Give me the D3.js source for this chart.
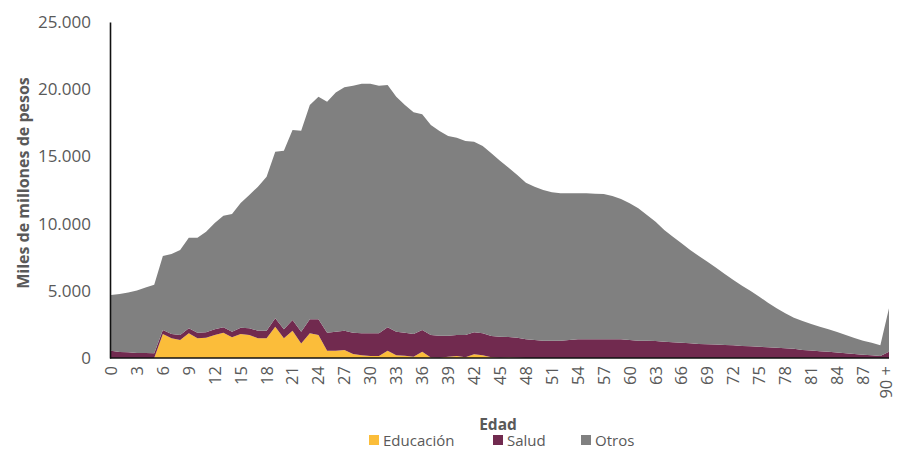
<!DOCTYPE html>
<html>
<head>
<meta charset="utf-8">
<script src="https://cdn.jsdelivr.net/npm/d3@7"></script>
<style>
  html, body { margin: 0; padding: 0; background: #fff; }
  svg { display: block; font-family: "Open Sans", "Noto Sans", sans-serif; }
</style>
</head>
<body>
<svg id="chart" width="898" height="450"></svg>
<script>
// ---- Data ----
const categories = [];
for (let i = 0; i < 90; i++) categories.push(String(i));
categories.push("90 +");

const educacion = [0,0,0,0,0,0,1790,1470,1340,1840,1470,1510,1710,1880,1540,1790,1710,1470,1470,2330,
  1470,2030,1080,1840,1710,540,540,600,300,200,150,150,540,200,170,100,470,30,20,100,
  150,50,280,200,50,20,30,20,0,0,0,0,0,0,0,0,0,0,0,0,
  0,0,0,0,0,0,0,0,0,0,0,0,0,0,0,0,0,0,0,0,
  0,0,0,0,0,0,0,0,0,0,0];

const salud = [540,450,420,380,370,350,290,320,370,370,410,400,430,400,420,460,500,560,560,620,
  670,800,880,1040,1170,1340,1420,1430,1580,1640,1690,1690,1740,1760,1710,1690,1610,1680,1640,1560,
  1560,1660,1630,1640,1590,1560,1530,1490,1390,1340,1290,1290,1290,1340,1390,1390,1390,1390,1390,1390,
  1340,1290,1290,1260,1210,1170,1140,1090,1040,1020,1000,970,940,900,870,840,800,760,720,680,
  600,560,510,460,410,350,300,250,200,150,470];

const otros = [4150,4310,4460,4650,4880,5100,5510,5950,6330,6740,7070,7490,7900,8310,8750,9280,9920,10720,11460,12400,
  13280,14130,14950,15940,16560,17190,17790,18110,18380,18570,18570,18420,18030,17480,16940,16490,16050,15630,15230,14860,
  14680,14440,14180,13930,13590,13100,12600,12110,11650,11410,11210,11040,10960,10910,10860,10860,10830,10810,10660,10440,
  10170,9850,9350,8880,8310,7860,7390,6950,6550,6150,5720,5280,4860,4480,4120,3720,3310,2940,2610,2320,
  2150,1970,1820,1680,1520,1360,1190,1040,940,800,3230];

const seriesNames = ["Educación", "Salud", "Otros"];
const seriesColors = ["#FBBD3A", "#712A4F", "#808080"];
const yTicks = [0, 5000, 10000, 15000, 20000, 25000];
const xTickLabels = categories.filter((d, i) => i % 3 === 0);

// ---- Build table ----
const table = categories.map((c, i) => ({
  cat: c,
  "Educación": educacion[i],
  "Salud": salud[i],
  "Otros": otros[i]
}));

const svg = d3.select("#chart");

const x = d3.scalePoint().domain(categories).range([111, 889]);
const y = d3.scaleLinear().domain([0, 25000]).range([358, 22]);

const stack = d3.stack().keys(seriesNames);
const layers = stack(table);

const area = d3.area()
  .x(d => x(d.data.cat))
  .y0(d => y(d[0]))
  .y1(d => y(d[1]));

svg.append("g").selectAll("path")
  .data(layers)
  .join("path")
  .attr("d", area)
  .attr("fill", (d, i) => seriesColors[i]);

const fmt = v => d3.format(",")(v).replace(/,/g, ".");

// Y axis
const yAxis = svg.append("g")
  .attr("transform", "translate(110,0)")
  .call(d3.axisLeft(y).tickValues(yTicks).tickSize(0).tickPadding(19).tickFormat(fmt));
yAxis.select(".domain").attr("stroke", "#111").attr("stroke-width", 1.6);
yAxis.selectAll("text")
  .attr("fill", "#595959")
  .style("font-size", "17px")
  .style("font-family", "'Open Sans', sans-serif");

// X axis
const xAxis = svg.append("g")
  .attr("transform", "translate(0,358)")
  .call(d3.axisBottom(x).tickValues(xTickLabels).tickSize(0));
xAxis.select(".domain")
  .attr("d", "M110,0H889")
  .attr("stroke", "#111").attr("stroke-width", 1.6);
xAxis.selectAll("text")
  .attr("transform", "rotate(-90)")
  .attr("text-anchor", "end")
  .attr("x", -8)
  .attr("y", 0)
  .attr("dy", (d, i, n) => i === n.length - 1 ? "0.15em" : "0.33em")
  .attr("fill", "#595959")
  .style("font-size", "16.5px")
  .style("font-family", "'Open Sans', sans-serif");

// Y axis title
svg.append("text")
  .attr("transform", "translate(23,183) rotate(-90)")
  .attr("text-anchor", "middle")
  .attr("dy", "0.35em")
  .attr("fill", "#595959")
  .style("font-weight", "bold")
  .style("font-size", "16px")
  .text("Miles de millones de pesos");

// X axis title
svg.append("text")
  .attr("x", 498)
  .attr("y", 430)
  .attr("text-anchor", "middle")
  .attr("fill", "#595959")
  .style("font-weight", "bold")
  .style("font-size", "15.5px")
  .text("Edad");

// Legend
const legendX = [369, 493, 581];
const legend = svg.append("g");
seriesNames.forEach((name, i) => {
  const g = legend.append("g").attr("transform", `translate(${legendX[i]},0)`);
  g.append("rect").attr("x", 0).attr("y", 435).attr("width", 10).attr("height", 10)
    .attr("fill", seriesColors[i]);
  g.append("text").attr("x", 14).attr("y", 445.5)
    .attr("fill", "#595959")
    .style("font-size", "15px")
    .text(name);
});
</script>
</body>
</html>
